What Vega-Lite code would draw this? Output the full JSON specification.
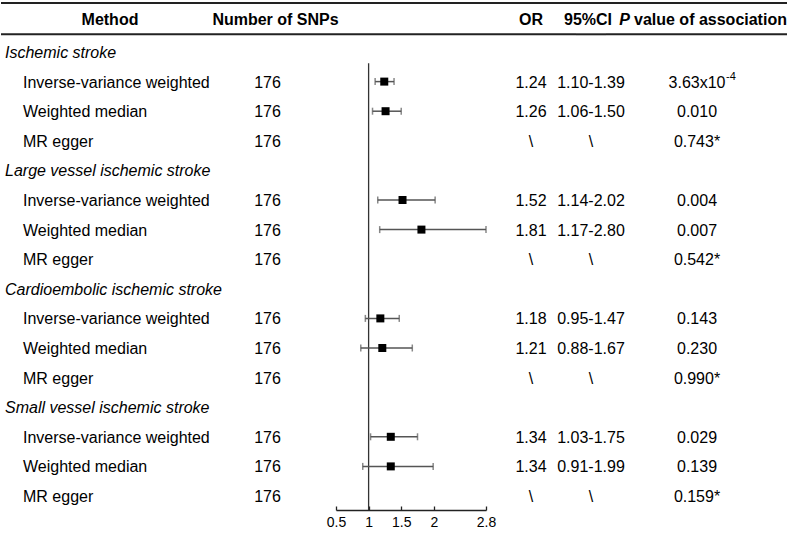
{
  "$schema": "https://vega.github.io/schema/vega-lite/v6.json",
  "padding": 0,
  "background": "white",
  "spacing": 0,
  "bounds": "flush",
  "config": {
    "view": {"stroke": null},
    "font": "Liberation Sans",
    "text": {"fontSize": 16, "color": "#000", "font": "Liberation Sans"},
    "axisX": {"labelFontSize": 14, "labelColor": "#000", "labelFont": "Liberation Sans", "labelOverlap": false, "labelFlush": false, "tickSize": -4, "labelPadding": 9, "grid": false, "domainColor": "#222", "domainWidth": 1.3, "tickColor": "#222", "tickWidth": 1.3}
  },
  "datasets": {
    "rows": [
      {"row": 1, "level": "group", "label": "Ischemic stroke"},
      {"row": 2, "level": "method", "label": "Inverse-variance weighted", "snps": "176", "or": 1.24, "lo": 1.10, "hi": 1.39, "orText": "1.24", "ci": "1.10-1.39", "p": "3.63x10", "pExp": "-4"},
      {"row": 3, "level": "method", "label": "Weighted median", "snps": "176", "or": 1.26, "lo": 1.06, "hi": 1.50, "orText": "1.26", "ci": "1.06-1.50", "p": "0.010"},
      {"row": 4, "level": "method", "label": "MR egger", "snps": "176", "or": null, "lo": null, "hi": null, "orText": "\\", "ci": "\\", "p": "0.743*"},
      {"row": 5, "level": "group", "label": "Large vessel ischemic stroke"},
      {"row": 6, "level": "method", "label": "Inverse-variance weighted", "snps": "176", "or": 1.52, "lo": 1.14, "hi": 2.02, "orText": "1.52", "ci": "1.14-2.02", "p": "0.004"},
      {"row": 7, "level": "method", "label": "Weighted median", "snps": "176", "or": 1.81, "lo": 1.17, "hi": 2.80, "orText": "1.81", "ci": "1.17-2.80", "p": "0.007"},
      {"row": 8, "level": "method", "label": "MR egger", "snps": "176", "or": null, "lo": null, "hi": null, "orText": "\\", "ci": "\\", "p": "0.542*"},
      {"row": 9, "level": "group", "label": "Cardioembolic ischemic stroke"},
      {"row": 10, "level": "method", "label": "Inverse-variance weighted", "snps": "176", "or": 1.18, "lo": 0.95, "hi": 1.47, "orText": "1.18", "ci": "0.95-1.47", "p": "0.143"},
      {"row": 11, "level": "method", "label": "Weighted median", "snps": "176", "or": 1.21, "lo": 0.88, "hi": 1.67, "orText": "1.21", "ci": "0.88-1.67", "p": "0.230"},
      {"row": 12, "level": "method", "label": "MR egger", "snps": "176", "or": null, "lo": null, "hi": null, "orText": "\\", "ci": "\\", "p": "0.990*"},
      {"row": 13, "level": "group", "label": "Small vessel ischemic stroke"},
      {"row": 14, "level": "method", "label": "Inverse-variance weighted", "snps": "176", "or": 1.34, "lo": 1.03, "hi": 1.75, "orText": "1.34", "ci": "1.03-1.75", "p": "0.029"},
      {"row": 15, "level": "method", "label": "Weighted median", "snps": "176", "or": 1.34, "lo": 0.91, "hi": 1.99, "orText": "1.34", "ci": "0.91-1.99", "p": "0.139"},
      {"row": 16, "level": "method", "label": "MR egger", "snps": "176", "or": null, "lo": null, "hi": null, "orText": "\\", "ci": "\\", "p": "0.159*"}
    ],
    "header": [
      {"row": 0, "col": "method", "text": "Method"},
      {"row": 0, "col": "snps", "text": "Number of SNPs"},
      {"row": 0, "col": "or", "text": "OR"},
      {"row": 0, "col": "ci", "text": "95%CI"},
      {"row": 0, "col": "p1", "text": "P"},
      {"row": 0, "col": "p2", "text": "value of association"}
    ]
  },
  "hconcat": [
    {
      "width": 218, "height": 510,
      "layer": [
        {"data": {"values": [{}]}, "mark": {"type": "rule", "strokeWidth": 2, "color": "#222"}, "encoding": {"y": {"datum": -0.655, "type": "quantitative", "scale": {"domain": [-0.757, 16.473], "reverse": true, "nice": false, "zero": false}, "axis": null}}},
        {"data": {"values": [{}]}, "mark": {"type": "rule", "strokeWidth": 2, "color": "#222"}, "encoding": {"y": {"datum": 0.402, "type": "quantitative"}}},
        {"data": {"name": "header"}, "transform": [{"filter": "datum.col === 'method'"}], "mark": {"type": "text", "fontWeight": "bold", "dy": -2}, "encoding": {"y": {"field": "row", "type": "quantitative"}, "text": {"field": "text"}}},
        {"data": {"name": "rows"}, "transform": [{"filter": "datum.level === 'group'"}], "mark": {"type": "text", "fontStyle": "italic", "align": "left", "dy": 1}, "encoding": {"x": {"field": "level", "type": "nominal", "scale": {"type": "point", "domain": ["group", "method"], "range": [4, 22], "padding": 0}, "axis": null}, "y": {"field": "row", "type": "quantitative"}, "text": {"field": "label"}}},
        {"data": {"name": "rows"}, "transform": [{"filter": "datum.level === 'method'"}], "mark": {"type": "text", "align": "left", "dy": 1}, "encoding": {"x": {"field": "level", "type": "nominal", "axis": null}, "y": {"field": "row", "type": "quantitative"}, "text": {"field": "label"}}}
      ]
    },
    {
      "width": 117, "height": 510,
      "layer": [
        {"data": {"values": [{}]}, "mark": {"type": "rule", "strokeWidth": 2, "color": "#222"}, "encoding": {"y": {"datum": -0.655, "type": "quantitative", "scale": {"domain": [-0.757, 16.473], "reverse": true, "nice": false, "zero": false}, "axis": null}}},
        {"data": {"values": [{}]}, "mark": {"type": "rule", "strokeWidth": 2, "color": "#222"}, "encoding": {"y": {"datum": 0.402, "type": "quantitative"}}},
        {"data": {"name": "header"}, "transform": [{"filter": "datum.col === 'snps'"}], "mark": {"type": "text", "fontWeight": "bold", "dy": -2, "dx": -2}, "encoding": {"y": {"field": "row", "type": "quantitative"}, "text": {"field": "text"}}},
        {"data": {"name": "rows"}, "transform": [{"filter": "datum.level === 'method'"}], "mark": {"type": "text", "dy": 1, "dx": -10}, "encoding": {"y": {"field": "row", "type": "quantitative"}, "text": {"field": "snps"}}}
      ]
    },
    {
      "width": 150, "height": 510,
      "layer": [
        {"data": {"values": [{}]}, "mark": {"type": "rule", "strokeWidth": 2, "color": "#222"}, "encoding": {"y": {"datum": -0.655, "type": "quantitative", "scale": {"domain": [-0.757, 16.473], "reverse": true, "nice": false, "zero": false}, "axis": null}}},
        {"data": {"values": [{}]}, "mark": {"type": "rule", "strokeWidth": 2, "color": "#222"}, "encoding": {"y": {"datum": 0.402, "type": "quantitative"}}},
        {"data": {"values": [{}]}, "mark": {"type": "rule", "color": "#333", "strokeWidth": 1.3},
         "encoding": {
           "x": {"datum": 1, "type": "quantitative", "scale": {"domain": [0.5, 2.8], "nice": false, "zero": false},
                 "axis": {"values": [0.5, 1, 1.5, 2, 2.8], "labelExpr": "'' + datum.value", "title": null}},
           "y": {"datum": 1.382, "type": "quantitative"},
           "y2": {"datum": 16.473}
         }},
        {"data": {"name": "rows"}, "transform": [{"filter": "isValid(datum.lo)"}], "mark": {"type": "rule", "color": "#555", "strokeWidth": 1.5},
         "encoding": {"x": {"field": "lo", "type": "quantitative", "axis": {"values": [0.5, 1, 1.5, 2, 2.8], "labelExpr": "'' + datum.value", "title": null}}, "x2": {"field": "hi"}, "y": {"field": "row", "type": "quantitative"}}},
        {"data": {"name": "rows"}, "transform": [{"filter": "isValid(datum.lo)"}, {"fold": ["lo", "hi"], "as": ["end", "bound"]}], "mark": {"type": "tick", "orient": "vertical", "size": 7, "thickness": 1.5, "color": "#555"},
         "encoding": {"x": {"field": "bound", "type": "quantitative", "axis": {"values": [0.5, 1, 1.5, 2, 2.8], "labelExpr": "'' + datum.value", "title": null}}, "y": {"field": "row", "type": "quantitative"}}},
        {"data": {"name": "rows"}, "transform": [{"filter": "isValid(datum.or)"}], "mark": {"type": "square", "size": 64, "color": "#000", "opacity": 1},
         "encoding": {"x": {"field": "or", "type": "quantitative", "axis": {"values": [0.5, 1, 1.5, 2, 2.8], "labelExpr": "'' + datum.value", "title": null}}, "y": {"field": "row", "type": "quantitative"}}}
      ]
    },
    {
      "width": 90, "height": 510,
      "layer": [
        {"data": {"values": [{}]}, "mark": {"type": "rule", "strokeWidth": 2, "color": "#222"}, "encoding": {"y": {"datum": -0.655, "type": "quantitative", "scale": {"domain": [-0.757, 16.473], "reverse": true, "nice": false, "zero": false}, "axis": null}}},
        {"data": {"values": [{}]}, "mark": {"type": "rule", "strokeWidth": 2, "color": "#222"}, "encoding": {"y": {"datum": 0.402, "type": "quantitative"}}},
        {"data": {"name": "header"}, "transform": [{"filter": "datum.col === 'or'"}], "mark": {"type": "text", "fontWeight": "bold", "dy": -2}, "encoding": {"y": {"field": "row", "type": "quantitative"}, "text": {"field": "text"}}},
        {"data": {"name": "rows"}, "transform": [{"filter": "datum.level === 'method'"}], "mark": {"type": "text", "dy": 1}, "encoding": {"y": {"field": "row", "type": "quantitative"}, "text": {"field": "orText"}}}
      ]
    },
    {
      "width": 30, "height": 510,
      "layer": [
        {"data": {"values": [{}]}, "mark": {"type": "rule", "strokeWidth": 2, "color": "#222"}, "encoding": {"y": {"datum": -0.655, "type": "quantitative", "scale": {"domain": [-0.757, 16.473], "reverse": true, "nice": false, "zero": false}, "axis": null}}},
        {"data": {"values": [{}]}, "mark": {"type": "rule", "strokeWidth": 2, "color": "#222"}, "encoding": {"y": {"datum": 0.402, "type": "quantitative"}}},
        {"data": {"name": "header"}, "transform": [{"filter": "datum.col === 'ci'"}], "mark": {"type": "text", "fontWeight": "bold", "dy": -2, "dx": -3}, "encoding": {"y": {"field": "row", "type": "quantitative"}, "text": {"field": "text"}}},
        {"data": {"name": "rows"}, "transform": [{"filter": "datum.level === 'method'"}], "mark": {"type": "text", "dy": 1}, "encoding": {"y": {"field": "row", "type": "quantitative"}, "text": {"field": "ci"}}}
      ]
    },
    {
      "width": 182, "height": 510,
      "layer": [
        {"data": {"values": [{}]}, "mark": {"type": "rule", "strokeWidth": 2, "color": "#222"}, "encoding": {"y": {"datum": -0.655, "type": "quantitative", "scale": {"domain": [-0.757, 16.473], "reverse": true, "nice": false, "zero": false}, "axis": null}}},
        {"data": {"values": [{}]}, "mark": {"type": "rule", "strokeWidth": 2, "color": "#222"}, "encoding": {"y": {"datum": 0.402, "type": "quantitative"}}},
        {"data": {"name": "header"}, "transform": [{"filter": "datum.col === 'p1'"}], "mark": {"type": "text", "fontWeight": "bold", "fontStyle": "italic", "align": "right", "dy": -2, "dx": -67}, "encoding": {"y": {"field": "row", "type": "quantitative"}, "text": {"field": "text"}}},
        {"data": {"name": "header"}, "transform": [{"filter": "datum.col === 'p2'"}], "mark": {"type": "text", "fontWeight": "bold", "align": "left", "dy": -2, "dx": -63}, "encoding": {"y": {"field": "row", "type": "quantitative"}, "text": {"field": "text"}}},
        {"data": {"name": "rows"}, "transform": [{"filter": "datum.level === 'method'"}], "mark": {"type": "text", "dy": 1}, "encoding": {"y": {"field": "row", "type": "quantitative"}, "text": {"field": "p"}}},
        {"data": {"name": "rows"}, "transform": [{"filter": "isValid(datum.pExp)"}], "mark": {"type": "text", "fontSize": 11, "align": "left", "dy": -5, "dx": 29}, "encoding": {"y": {"field": "row", "type": "quantitative"}, "text": {"field": "pExp"}}}
      ]
    }
  ]
}
